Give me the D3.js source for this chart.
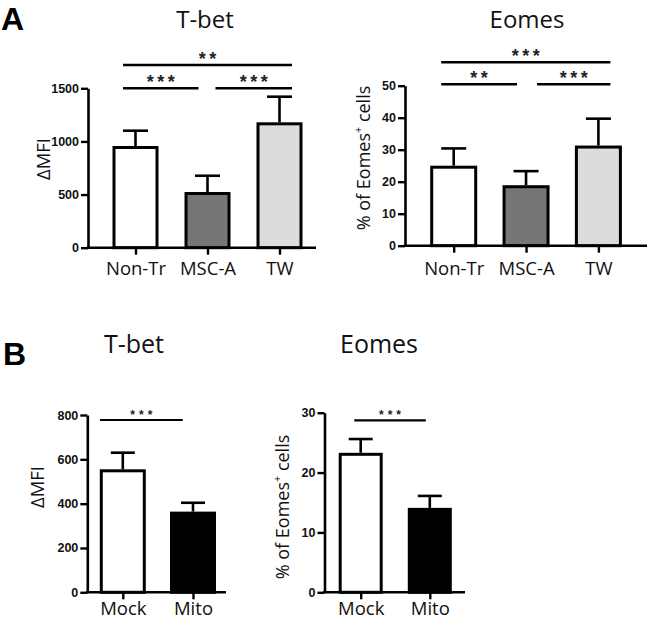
<!DOCTYPE html>
<html>
<head>
<meta charset="utf-8">
<script src="https://cdn.jsdelivr.net/npm/d3@7"></script>
<style>
  html, body { margin: 0; padding: 0; background: #fff; }
  svg { display: block; }
</style>
</head>
<body>
<svg id="chart" width="649" height="621"></svg>
<script>
// ---------- DATA ----------
const catsA = ["Non-Tr", "MSC-A", "TW"];
const tbetA = [957, 524, 1180];
const tbetAErr = [144, 153, 241];
const eomesA = [25.0, 18.9, 31.3];
const eomesAErr = [5.4, 4.4, 8.4];
const fillsA = ["#ffffff", "#767676", "#dcdcdc"];

const catsB = ["Mock", "Mito"];
const tbetB = [555, 364];
const tbetBErr = [75, 40];
const eomesB = [23.3, 14.1];
const eomesBErr = [2.3, 2.0];
const fillsB = ["#ffffff", "#000000"];

const ticksTbetA = [0, 500, 1000, 1500];
const ticksEomesA = [0, 10, 20, 30, 40, 50];
const ticksTbetB = [0, 200, 400, 600, 800];
const ticksEomesB = [0, 10, 20, 30];

const sigTbetA = [
  { from: 0, to: 2, label: "**", level: 1 },
  { from: 0, to: 1, label: "***", level: 0 },
  { from: 1, to: 2, label: "***", level: 0 }
];
const sigEomesA = [
  { from: 0, to: 2, label: "***", level: 1 },
  { from: 0, to: 1, label: "**", level: 0 },
  { from: 1, to: 2, label: "***", level: 0 }
];
const sigTbetB = [{ from: 0, to: 1, label: "***", level: 0 }];
const sigEomesB = [{ from: 0, to: 1, label: "***", level: 0 }];

// ---------- DRAW ----------
const svg = d3.select("#chart");
const LAB_FONT = "'Open Sans', 'Noto Sans', sans-serif";
const NUM_FONT = "'Liberation Sans', Arial, sans-serif";

function panel(cfg) {
  const g = svg.append("g");
  const y = d3.scaleLinear().domain([0, cfg.ticks[cfg.ticks.length - 1]]).range([cfg.y0, cfg.yTop]);
  const x = d3.scalePoint().domain(cfg.cats).range(cfg.centers);

  // bars
  const bw = cfg.barW;
  g.selectAll("rect.bar").data(cfg.vals).join("rect")
    .attr("class", "bar")
    .attr("x", (d, i) => x(cfg.cats[i]) - bw / 2 + 1.5)
    .attr("width", bw - 3)
    .attr("y", d => y(d) + 1.5)
    .attr("height", d => cfg.y0 - y(d) - 1.5)
    .attr("fill", (d, i) => cfg.fills[i])
    .attr("stroke", "#000")
    .attr("stroke-width", 3);

  // error bars
  cfg.vals.forEach((v, i) => {
    const cx = x(cfg.cats[i]);
    const top = y(v + cfg.errs[i]);
    g.append("line").attr("x1", cx).attr("x2", cx).attr("y1", y(v)).attr("y2", top)
      .attr("stroke", "#000").attr("stroke-width", 2.6);
    g.append("line").attr("x1", cx - cfg.capW / 2).attr("x2", cx + cfg.capW / 2).attr("y1", top).attr("y2", top)
      .attr("stroke", "#000").attr("stroke-width", 2.6);
  });

  // y axis
  const ya = g.append("g").attr("transform", `translate(${cfg.x0},0)`)
    .call(d3.axisLeft(y).tickValues(cfg.ticks).tickFormat(d3.format("d"))
      .tickSize(7).tickSizeOuter(0).tickPadding(2));
  ya.select(".domain").attr("stroke", "#000").attr("stroke-width", 2.6);
  ya.selectAll(".tick line").attr("stroke", "#000").attr("stroke-width", 2.4);
  ya.selectAll(".tick text")
    .style("font-family", NUM_FONT).style("font-weight", "bold")
    .style("font-size", "12.5px").attr("fill", "#111");

  // x axis
  g.append("line").attr("x1", cfg.x0 - 1.3).attr("x2", cfg.x1).attr("y1", cfg.y0).attr("y2", cfg.y0)
    .attr("stroke", "#000").attr("stroke-width", 2.6);
  const xa = g.append("g").attr("transform", `translate(0,${cfg.y0})`)
    .call(d3.axisBottom(x).tickSize(7).tickSizeOuter(0));
  xa.select(".domain").remove();
  xa.selectAll(".tick line").attr("stroke", "#000").attr("stroke-width", 2.4);
  xa.selectAll(".tick text")
    .attr("dy", null)
    .attr("y", cfg.xlabOff)
    .attr("fill", "#111")
    .style("font-family", LAB_FONT)
    .style("font-size", cfg.xlabSize + "px");

  // title
  g.append("text")
    .attr("x", cfg.titleX).attr("y", cfg.titleY)
    .attr("text-anchor", "middle")
    .attr("fill", "#111")
    .style("font-family", LAB_FONT)
    .style("font-size", cfg.titleSize + "px")
    .text(cfg.title);

  // y label
  const yl = g.append("text")
    .attr("transform", `translate(${cfg.ylabX},${cfg.ylabY}) rotate(-90)`)
    .attr("text-anchor", "middle")
    .attr("dominant-baseline", "central")
    .attr("fill", "#111")
    .style("font-family", LAB_FONT)
    .style("font-size", cfg.ylabSize + "px");
  if (cfg.ylabSup) {
    yl.append("tspan").text(cfg.ylabel[0]);
    yl.append("tspan").attr("dy", -6).style("font-size", (cfg.ylabSize * 0.6) + "px").text("+");
    yl.append("tspan").attr("dy", 6).text(cfg.ylabel[1]);
  } else {
    yl.text(cfg.ylabel);
  }

  // significance
  const last = cfg.cats.length - 1;
  cfg.sig.forEach(s => {
    const ly = cfg.sigY[s.level];
    const xs = x(cfg.cats[s.from]) + (s.from === 0 ? cfg.sigOut[0] : cfg.sigIn[0]);
    const xe = x(cfg.cats[s.to]) + (s.to === last ? cfg.sigOut[1] : cfg.sigIn[1]);
    g.append("line").attr("x1", xs).attr("x2", xe).attr("y1", ly).attr("y2", ly)
      .attr("stroke", "#000").attr("stroke-width", cfg.sigW);
    g.append("text")
      .attr("x", (xs + xe) / 2 + cfg.starLS / 2).attr("y", ly + cfg.starDy)
      .attr("text-anchor", "middle")
      .attr("fill", "#222")
      .style("font-family", NUM_FONT)
      .style("font-weight", "bold")
      .style("font-size", cfg.starSize + "px")
      .style("letter-spacing", cfg.starLS + "px")
      .text(s.label);
  });
}

// Panel A - T-bet
panel({
  cats: catsA, vals: tbetA, errs: tbetAErr, fills: fillsA, ticks: ticksTbetA,
  x0: 88, x1: 316, y0: 247.7, yTop: 88.3, centers: [135.5, 279.5], barW: 46, capW: 25,
  xlabOff: 27.5, xlabSize: 18.5,
  title: "T-bet", titleX: 205, titleY: 28, titleSize: 24,
  ylabel: "ΔMFI", ylabX: 42.5, ylabY: 159, ylabSize: 18.5,
  sig: sigTbetA, sigY: [88.3, 65], sigOut: [-12.5, 12.5], sigIn: [8, -9], sigW: 2.6,
  starSize: 18, starLS: 3.5, starDy: 0
});

// Panel A - Eomes
panel({
  cats: catsA, vals: eomesA, errs: eomesAErr, fills: fillsA, ticks: ticksEomesA,
  x0: 405, x1: 647, y0: 245.7, yTop: 85.7, centers: [453.7, 598.4], barW: 47, capW: 25,
  xlabOff: 29, xlabSize: 18.5,
  title: "Eomes", titleX: 527, titleY: 28, titleSize: 24,
  ylabel: ["% of Eomes", " cells"], ylabSup: true, ylabX: 363, ylabY: 158, ylabSize: 18,
  sig: sigEomesA, sigY: [84.3, 62.3], sigOut: [-12.5, 12], sigIn: [11, -9], sigW: 2.6,
  starSize: 18, starLS: 3.5, starDy: 0
});

// Panel B - T-bet
panel({
  cats: catsB, vals: tbetB, errs: tbetBErr, fills: fillsB, ticks: ticksTbetB,
  x0: 87.3, x1: 226, y0: 592.3, yTop: 415, centers: [122.8, 193], barW: 46, capW: 24,
  xlabOff: 23, xlabSize: 18.5,
  title: "T-bet", titleX: 134, titleY: 353, titleSize: 25,
  ylabel: "ΔMFI", ylabX: 36, ylabY: 487, ylabSize: 18.5,
  sig: sigTbetB, sigY: [420], sigOut: [-22.8, -10.3], sigIn: [0, 0], sigW: 2.2,
  starSize: 12, starLS: 4, starDy: -1
});

// Panel B - Eomes
panel({
  cats: catsB, vals: eomesB, errs: eomesBErr, fills: fillsB, ticks: ticksEomesB,
  x0: 324.5, x1: 465, y0: 592.3, yTop: 412.7, centers: [360.7, 429.8], barW: 44, capW: 24,
  xlabOff: 23, xlabSize: 18.5,
  title: "Eomes", titleX: 379, titleY: 353, titleSize: 25,
  ylabel: ["% of Eomes", " cells"], ylabSup: true, ylabX: 282, ylabY: 507, ylabSize: 18,
  sig: sigEomesB, sigY: [420.3], sigOut: [-6.4, -4], sigIn: [0, 0], sigW: 2.2,
  starSize: 12, starLS: 4, starDy: -1
});

// Panel letters
svg.append("text").attr("x", 1).attr("y", 30)
  .style("font-family", NUM_FONT).style("font-weight", "bold").style("font-size", "32px")
  .text("A");
svg.append("text").attr("x", 3).attr("y", 365)
  .style("font-family", NUM_FONT).style("font-weight", "bold").style("font-size", "32px")
  .text("B");
</script>
</body>
</html>
